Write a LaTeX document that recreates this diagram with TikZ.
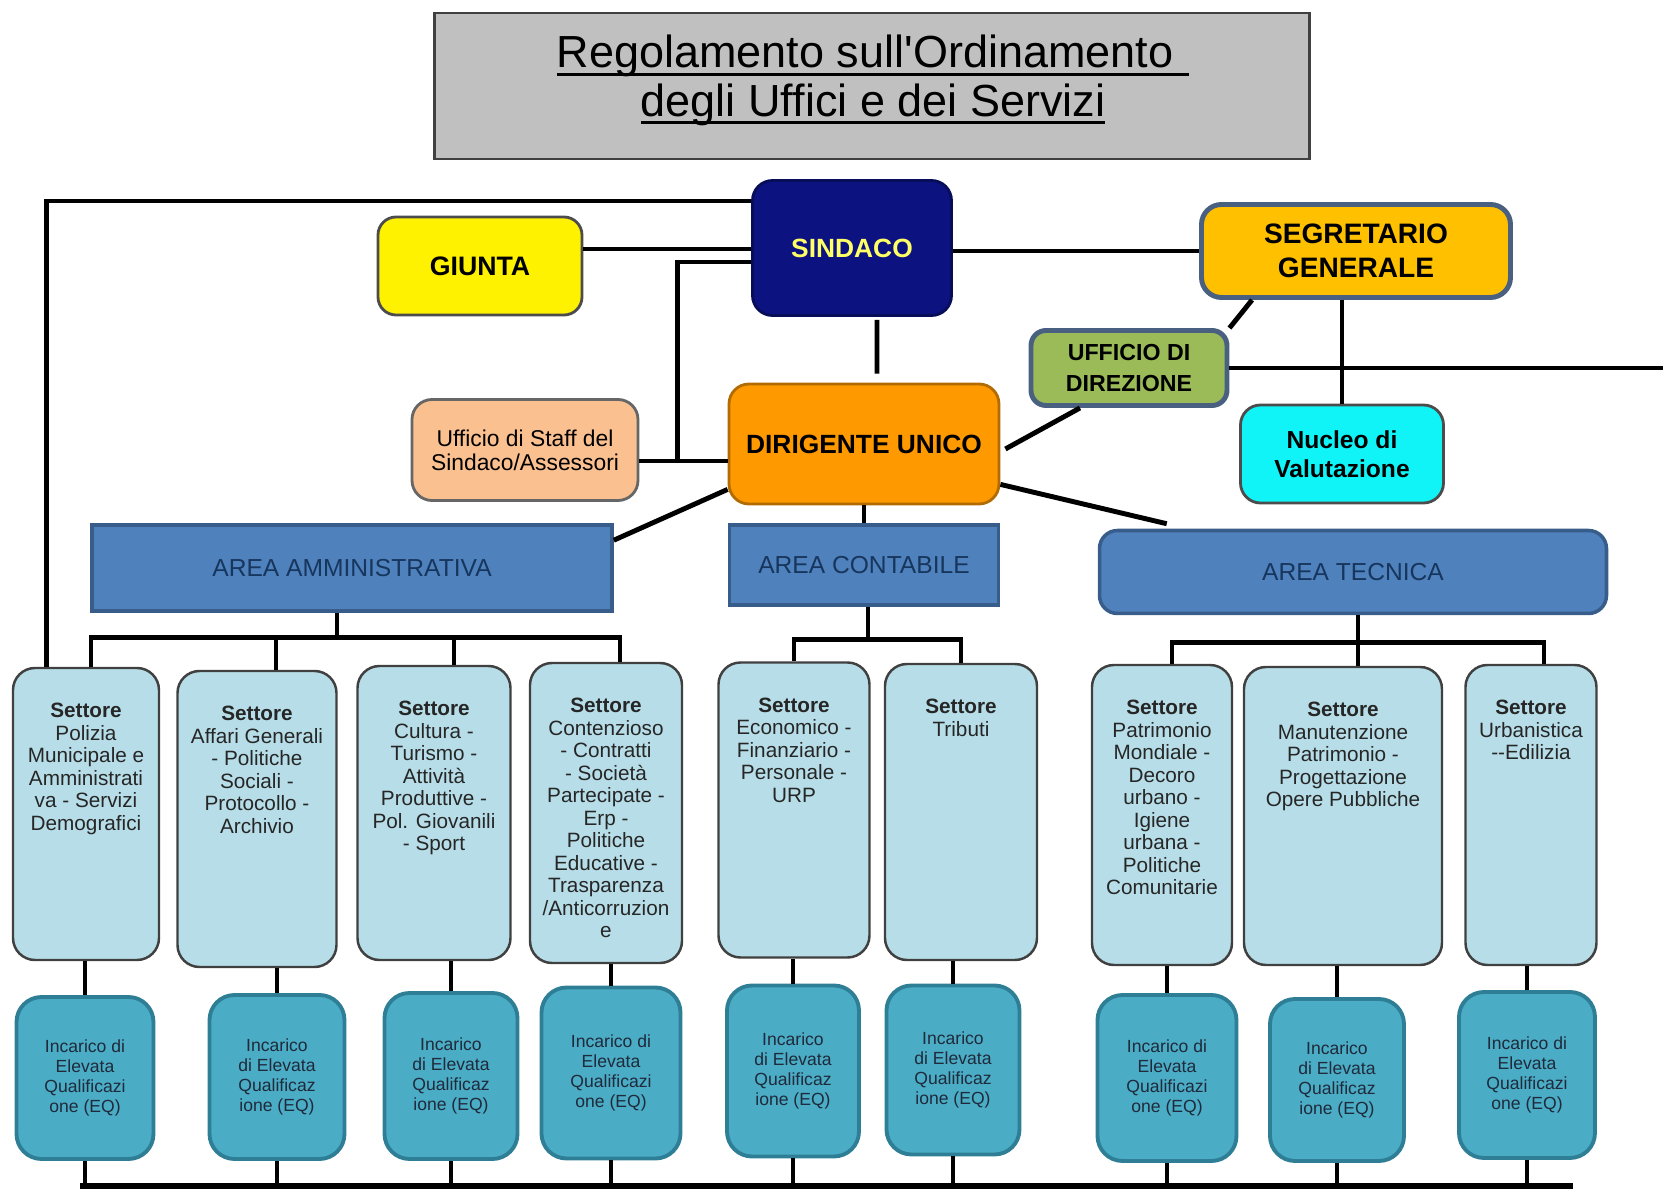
\documentclass[tikz,border=0pt]{standalone}
\usepackage{fontspec}
\setmainfont{Liberation Sans}
\usepackage{tikz}

\definecolor{titgrigio}{HTML}{C0C0C0}
\definecolor{navy}{HTML}{0C1280}
\definecolor{sindtxt}{HTML}{FFFF66}
\definecolor{oro}{HTML}{FFC000}
\definecolor{bordo}{HTML}{4A6080}
\definecolor{oliva}{HTML}{9BBB59}
\definecolor{ciano}{HTML}{10F4F8}
\definecolor{arancio}{HTML}{FF9900}
\definecolor{pesca}{HTML}{FAC090}
\definecolor{areablu}{HTML}{4F81BD}
\definecolor{areabordo}{HTML}{385D8A}
\definecolor{areatxt}{HTML}{17365D}
\definecolor{setfill}{HTML}{B7DEE8}
\definecolor{eqfill}{HTML}{4BACC6}
\definecolor{eqbordo}{HTML}{2E7E96}
\definecolor{eqtxt}{HTML}{1F2A3A}

\newcommand\sotto[1]{\setbox0\hbox{#1}\rlap{\rule[-2.4pt]{\wd0}{0.85pt}}\box0}
\newcommand\eqa{Incarico di\\Elevata\\Qualificazi\\one (EQ)}
\newcommand\eqb{Incarico\\di Elevata\\Qualificaz\\ione (EQ)}

\begin{document}
\begin{tikzpicture}[x=0.1mm,y=-0.1mm,
  bx/.style 2 args={minimum width=#1mm,minimum height=#2mm},
  lnk/.style={line width=1.4pt,black},
  capo/.style={draw,line width=0.8pt,rounded corners=2mm,align=center,font={\fontsize{7.5}{9}\selectfont\bfseries}},
  area/.style={draw=areabordo,fill=areablu,line width=1pt,text=areatxt,font={\fontsize{7}{8}\selectfont}},
  settore/.style={draw=black!75,fill=setfill,line width=0.7pt,rounded corners=2.2mm},
  settxt/.style={anchor=north,yshift=-3.6mm,inner sep=0pt,align=center,text=black!85,font={\fontsize{5.9}{6.4}\selectfont}},
  eq/.style={draw=eqbordo,fill=eqfill,line width=1.1pt,rounded corners=2.5mm,align=center,text=eqtxt,font={\fontsize{5}{5.7}\selectfont}}]
  \useasboundingbox (0,0) rectangle (1663,1189);

  % titolo
  \node[draw=black!75,fill=titgrigio,line width=0.7pt,bx={87.5}{14.6}] (tit) at (872,86) {};
  \node[align=center,font={\fontsize{12.8}{13.9}\selectfont}] (tittxt) at (873,80)
    {\sotto{Regolamento sull\textquotesingle Ordinamento\hspace{4.5pt}}\\\sotto{degli Uffici e dei Servizi}};

  % vertici
  \node[capo,fill=navy,draw=navy!70!black,text=sindtxt,bx={19.9}{13.5}] (sind) at (852,248) {SINDACO};
  \node[capo,fill=yellow,draw=black!70,rounded corners=1.8mm,bx={20.4}{9.8},font={\fontsize{7.6}{9}\selectfont\bfseries}] (giunta) at (480,266) {GIUNTA};
  \node[capo,fill=oro,draw=bordo,line width=1.4pt,bx={30.9}{9.3},font={\fontsize{8}{9.6}\selectfont\bfseries}] (segr) at (1356,251) {SEGRETARIO\\GENERALE};
  \node[capo,fill=oliva,draw=bordo,line width=1.4pt,rounded corners=1.5mm,bx={19.6}{7.5},font={\fontsize{6.6}{9}\selectfont\bfseries}] (uff) at (1129,368) {UFFICIO DI\\DIREZIONE};
  \node[capo,fill=ciano,draw=black!70,bx={20.3}{9.8},font={\fontsize{7}{8.4}\selectfont\bfseries}] (nuc) at (1342,454) {Nucleo di\\Valutazione};
  \node[capo,fill=arancio,draw=arancio!70!black,bx={27}{12}] (dir) at (864,444) {DIRIGENTE UNICO};
  \node[capo,fill=pesca,draw=black!60,bx={22.6}{10.1},font={\fontsize{6.5}{6.9}\selectfont}] (staff) at (525,450) {Ufficio di Staff del\\Sindaco/Assessori};

  % aree
  \node[area,bx={52}{8.6}] (amm) at (352,568) {AREA AMMINISTRATIVA};
  \node[area,bx={26.9}{8}] (cont) at (864,565) {AREA CONTABILE};
  \node[area,rounded corners=1.8mm,bx={50.7}{8.3}] (tec) at (1353,572) {AREA TECNICA};

  % settori
  \node[settore,bx={14.6}{29.2}] (s1) at (86,814) {};
  \node[settxt] (s1t) at (s1.north) {\textbf{Settore}\\Polizia\\Municipale e\\Amministrati\\va - Servizi\\Demografici};
  \node[settore,bx={15.9}{29.6}] (s2) at (257,819) {};
  \node[settxt] (s2t) at (s2.north) {\textbf{Settore}\\Affari Generali\\- Politiche\\Sociali -\\Protocollo -\\Archivio};
  \node[settore,bx={15.3}{29.4}] (s3) at (434,813) {};
  \node[settxt] (s3t) at (s3.north) {\textbf{Settore}\\Cultura -\\Turismo -\\Attività\\Produttive -\\Pol. Giovanili\\- Sport};
  \node[settore,bx={15.2}{30}] (s4) at (606,813) {};
  \node[settxt] (s4t) at (s4.north) {\textbf{Settore}\\Contenzioso\\- Contratti\\- Società\\Partecipate -\\Erp -\\Politiche\\Educative -\\Trasparenza\\/Anticorruzion\\e};
  \node[settore,bx={15.1}{29.5}] (s5) at (794,810) {};
  \node[settxt] (s5t) at (s5.north) {\textbf{Settore}\\Economico -\\Finanziario -\\Personale -\\URP};
  \node[settore,bx={15.2}{29.6}] (s6) at (961,812) {};
  \node[settxt] (s6t) at (s6.north) {\textbf{Settore}\\Tributi};
  \node[settore,bx={14}{30}] (s7) at (1162,815) {};
  \node[settxt] (s7t) at (s7.north) {\textbf{Settore}\\Patrimonio\\Mondiale -\\Decoro\\urbano -\\Igiene\\urbana -\\Politiche\\Comunitarie};
  \node[settore,bx={19.8}{29.8}] (s8) at (1343,816) {};
  \node[settxt] (s8t) at (s8.north) {\textbf{Settore}\\Manutenzione\\Patrimonio -\\Progettazione\\Opere Pubbliche};
  \node[settore,bx={13.1}{30}] (s9) at (1531,815) {};
  \node[settxt] (s9t) at (s9.north) {\textbf{Settore}\\Urbanistica\\-{}-Edilizia};

  % incarichi EQ
  \foreach \i/\x/\y/\w/\h/\m in {1/85/1078/13.7/16.2/\eqa,2/277/1077/13.5/16.4/\eqb,3/451/1076/13.3/16.6/\eqb,
      4/611/1073/13.9/17.1/\eqa,5/793/1071/13.2/17.1/\eqb,6/953/1070/13.3/16.9/\eqb,
      7/1167/1078/13.9/16.6/\eqa,8/1337/1080/13.4/16.2/\eqb,9/1527/1075/13.6/16.6/\eqa}
    \node[eq,bx={\w}{\h}] (e\i) at (\x,\y) {\m};

  % collegamenti
  \coordinate (g) at ([yshift=1.7mm]giunta.east);
  \draw[lnk] (g) -- (g -| sind.west);
  \draw[lnk] ([yshift=4.7mm]sind.west) -| ([xshift=3.5mm]s1.north west);
  \coordinate (st) at ([yshift=-1.1mm]staff.east);
  \draw[lnk] (st) -- (st -| dir.west);
  \draw[lnk] ([yshift=-1.4mm]sind.west) -| ([xshift=3.8mm]st);
  \draw[lnk] (segr.west -| sind.east) -- (segr.west);
  \draw[lnk] ([xshift=2.5mm,yshift=-0.3mm]sind.south) -- ([xshift=1.3mm,yshift=0.9mm]dir.north);
  \draw[lnk] ([xshift=5.3mm]segr.south west) -- (uff.north east);
  \draw[lnk] ([xshift=-4.9mm]uff.south) -- ([xshift=0.5mm,yshift=-0.5mm]dir.east);
  \coordinate (fuori) at (1663,366);
  \draw[lnk] (uff.east) -- (uff.east -| fuori);
  \draw[lnk] (nuc.north |- segr.south) -- (nuc.north);
  \draw[lnk] ([yshift=1.6mm]dir.south west) -- ([yshift=-1.7mm]amm.north east);
  \draw[lnk] (dir.south) -- (cont.north);
  \draw[lnk] ([yshift=2.1mm]dir.south east) -- ([xshift=6.9mm,yshift=0.5mm]tec.north west);

  % alberi delle aree
  \coordinate (ab) at ([xshift=-1.5mm,yshift=-2.5mm]amm.south);
  \draw[lnk] (ab |- amm.south) -- (ab);
  \foreach \s/\d in {1/0.5,2/1.9,3/2,4/1.4} \draw[lnk] (ab) -| ([xshift=\d mm]s\s.north);
  \coordinate (cb) at ([xshift=0.4mm,yshift=-3.3mm]cont.south);
  \draw[lnk] (cb |- cont.south) -- (cb);
  \foreach \s in {5,6} \draw[lnk] (cb) -| (s\s.north);
  \coordinate (tb) at ([xshift=0.5mm,yshift=-2.7mm]tec.south);
  \draw[lnk] (tb |- tec.south) -- (tb);
  \foreach \s/\d in {7/1,8/1.5,9/1.3} \draw[lnk] (tb) -| ([xshift=\d mm]s\s.north);

  % settori - EQ - linea di fondo
  \foreach \i in {1,...,9} \draw[lnk] (e\i.north) -- (e\i.north |- s\i.south);
  \coordinate (bl) at (80,1186);
  \coordinate (br) at (1573,1186);
  \draw[lnk,line width=1.8pt] (bl) -- (br);
  \foreach \i in {1,...,9} \draw[lnk] (e\i.south) -- (e\i.south |- bl);
\end{tikzpicture}
\end{document}
